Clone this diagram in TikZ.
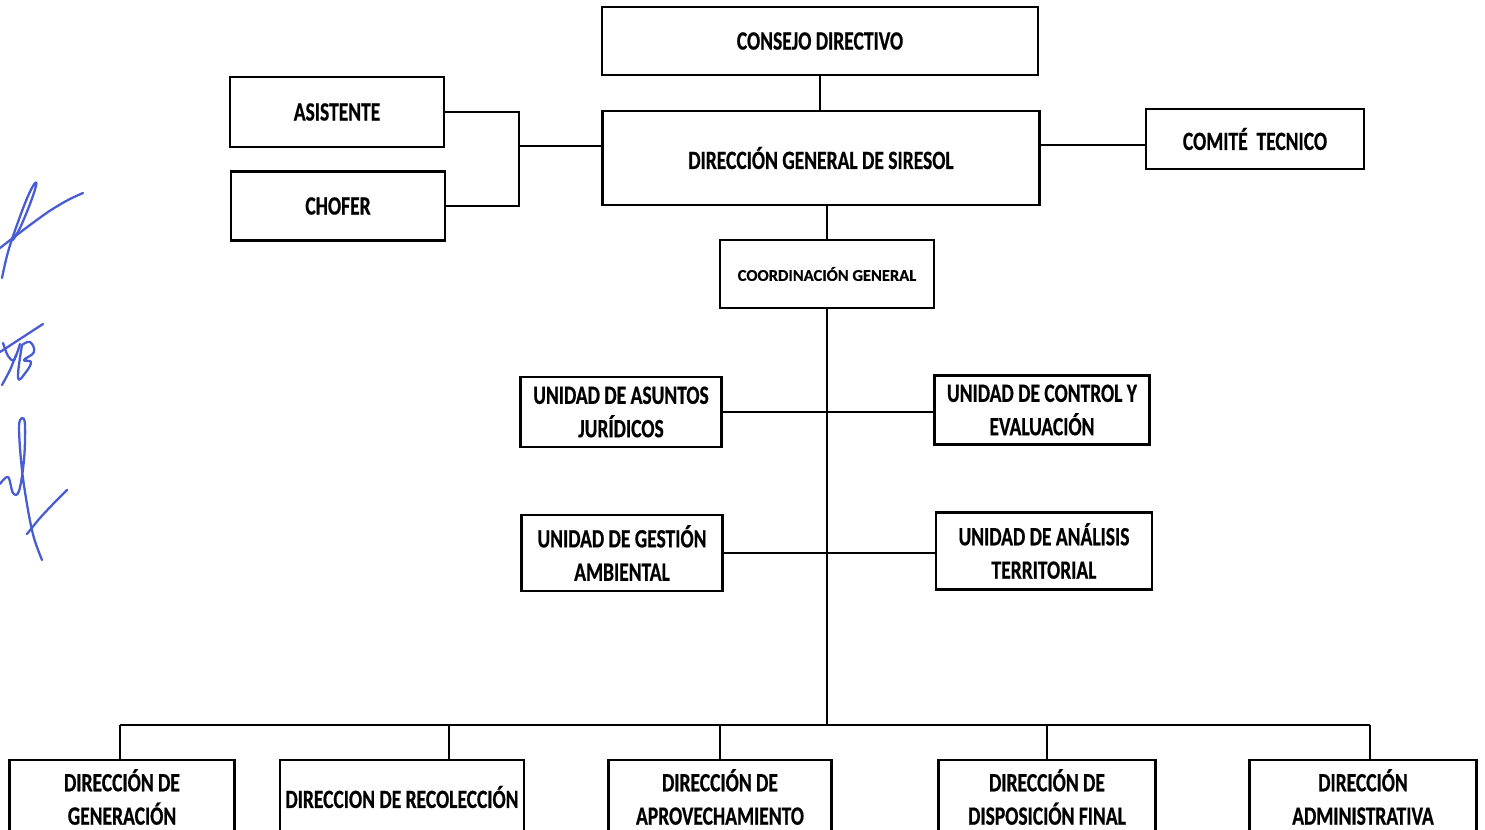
\documentclass[tikz,border=0pt]{standalone}
\usepackage{fontspec}
\setmainfont{Carlito}[FakeStretch=0.74, BoldFeatures={FakeBold=0.6}]
\newfontfamily\widefont{Carlito}[BoldFeatures={FakeBold=0.6}]
\usetikzlibrary{calc}
\definecolor{firmablue}{RGB}{72,92,212}

\begin{document}
\begin{tikzpicture}[x=0.02cm, y=-0.02cm]
	\tikzset{unit/.style = {rectangle, draw, line width = 1.5pt, align = center, inner sep = 0pt, font = \fontsize{15}{19}\selectfont\bfseries}}
	\tikzset{link/.style = {line width = 1.4pt}}
	\tikzset{firma/.style = {draw = firmablue, line width = 1.3pt, line cap = round, line join = round}}

\useasboundingbox (0,0) rectangle (1485,829);
\clip (0,0) rectangle (1485,829);

%% Top level
\node[unit, minimum width = 8.72cm, minimum height = 1.36cm] (consejo) at (820,41) {CONSEJO DIRECTIVO};
\node[unit, minimum width = 8.74cm, minimum height = 1.88cm] (dirgen) at (821,158) {DIRECCIÓN GENERAL DE SIRESOL};

%% Staff boxes
\node[unit, minimum width = 4.28cm, minimum height = 1.40cm] (asistente) at (337,112) {ASISTENTE};
\node[unit, minimum width = 4.28cm, minimum height = 1.38cm] (chofer) at (338,206) {CHOFER};
\node[unit, minimum width = 4.36cm, minimum height = 1.20cm] (comite) at (1255,139) {COMITÉ~ TECNICO};

%% Coordination
\node[unit, minimum width = 4.28cm, minimum height = 1.36cm, font = \widefont\fontsize{9.4}{11}\selectfont\bfseries] (coord) at (827,274) {COORDINACIÓN GENERAL};

%% Units
\node[unit, minimum width = 4.02cm, minimum height = 1.40cm] (juridicos) at (621,412) {UNIDAD DE ASUNTOS\\JURÍDICOS};
\node[unit, minimum width = 4.30cm, minimum height = 1.38cm] (control) at (1042,410) {UNIDAD DE CONTROL Y\\EVALUACIÓN};
\node[unit, minimum width = 4.02cm, minimum height = 1.52cm] (gestion) at (622,553) {UNIDAD DE GESTIÓN\\AMBIENTAL};
\node[unit, minimum width = 4.32cm, minimum height = 1.54cm] (analisis) at (1044,551) {UNIDAD DE ANÁLISIS\\TERRITORIAL};

%% Directions (bottom row)
\node[unit, minimum width = 4.50cm, minimum height = 1.48cm] (generacion) at (122,797) {DIRECCIÓN DE\\GENERACIÓN};
\node[unit, minimum width = 4.88cm, minimum height = 1.48cm] (recoleccion) at (402,797) {DIRECCION DE RECOLECCIÓN};
\node[unit, minimum width = 4.46cm, minimum height = 1.48cm] (aprovecha) at (720,797) {DIRECCIÓN DE\\APROVECHAMIENTO};
\node[unit, minimum width = 4.34cm, minimum height = 1.48cm] (disposicion) at (1047,797) {DIRECCIÓN DE\\DISPOSICIÓN FINAL};
\node[unit, minimum width = 4.54cm, minimum height = 1.48cm] (administra) at (1363,797) {DIRECCIÓN\\ADMINISTRATIVA};

%% Connectors
\coordinate (bracket) at (519,146);
\coordinate (comlink) at (1093,145);
\coordinate (busL) at (120,725);
\coordinate (busR) at (1370,725);
\coordinate (busM) at (830,725);
\coordinate (recdrop) at (449,725);

\draw[link] (consejo.south) -- (consejo.south |- dirgen.north);
\draw[link] (coord.north |- dirgen.south) -- (coord.north);
\draw[link] (asistente.east) -| (bracket) |- (chofer.east);
\draw[link] (bracket) -- (bracket -| dirgen.west);
\draw[link] (comlink -| comite.west) -- (comlink -| dirgen.east);
\draw[link] (coord.south) -- (coord.south |- busM);
\draw[link] (juridicos.east) -- (juridicos.east -| control.west);
\draw[link] (gestion.east) -- (gestion.east -| analisis.west);
\draw[link] (busL) -- (busR);
\draw[link] (busL) -- (busL |- generacion.north);
\draw[link] (recdrop) -- (recdrop |- recoleccion.north);
\draw[link] (aprovecha.north |- busM) -- (aprovecha.north);
\draw[link] (disposicion.north |- busM) -- (disposicion.north);
\draw[link] (busR) -- (busR |- administra.north);

%% Signatures
\draw[firma] plot[smooth, tension = 0.6] coordinates {(2,278) (8,252) (18,222) (28,196) (35,183) (36,186) (30,204) (20,228) (13,240)};
\draw[firma] plot[smooth] coordinates {(0,248) (22,231) (48,212) (68,200) (83,193)};
\draw[firma] (0,352) -- (43,324);
\draw[firma] plot[smooth] coordinates {(3,343) (8,356) (14,360) (20,344)};
\draw[firma] plot[smooth] coordinates {(16,355) (10,370) (2,385)};
\draw[firma] plot[smooth, tension = 0.7] coordinates {(22,345) (18,378) (26,372) (31,362) (24,360) (34,352) (30,342) (22,345)};
\draw[firma] plot[smooth, tension = 0.6] coordinates {(0,484) (8,477) (13,493) (19,491) (24,460) (25,425) (22,418) (19,428) (22,470) (28,510) (34,538) (42,560)};
\draw[firma] plot[smooth] coordinates {(27,534) (40,518) (55,502) (67,490)};

\end{tikzpicture}
\end{document}
